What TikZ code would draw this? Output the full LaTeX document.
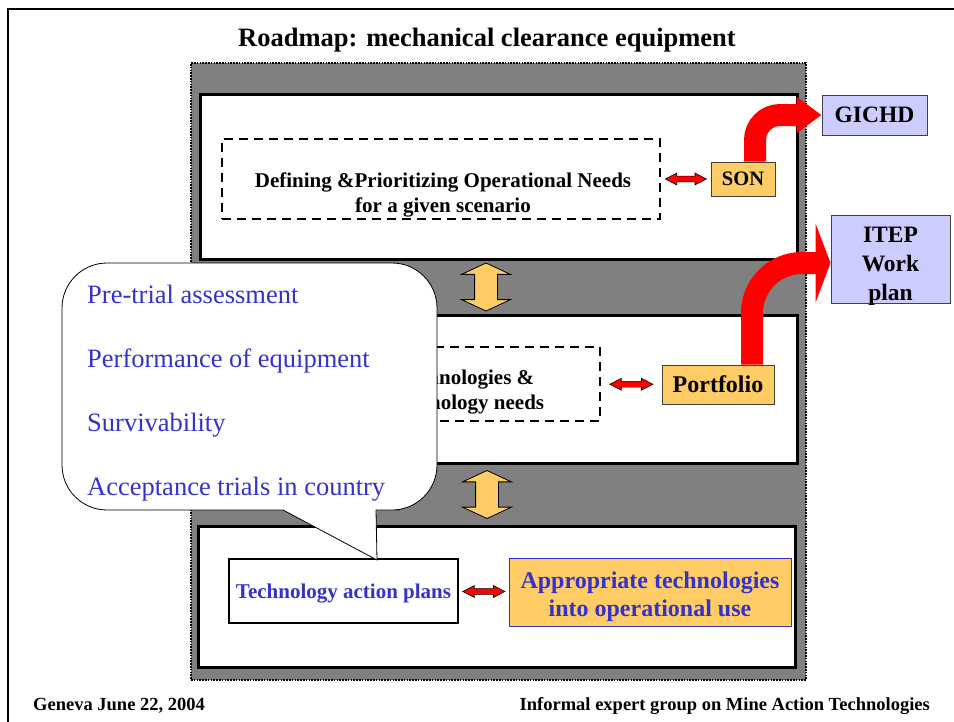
\documentclass[tikz,border=0pt]{standalone}
\usepackage{fontspec}
\setmainfont{Liberation Serif}
\usepackage{xcolor}
\usetikzlibrary{calc,arrows.meta,shapes.arrows}
\definecolor{shellgray}{HTML}{808080}
\definecolor{amber}{HTML}{FFCC66}
\definecolor{lilac}{HTML}{CCCCFF}
\definecolor{ink}{HTML}{3333CC}
\definecolor{edge}{HTML}{404040}
\tikzset{
  slide/.style={draw=black, line width=2.5pt},
  shell/.style={draw=black, fill=shellgray, line width=2.5pt, dash pattern=on 1.6pt off 1.2pt, inner sep=0pt},
  stage/.style={draw=black, fill=white, line width=3pt, inner sep=0pt},
  need/.style={draw=black, line width=2.5pt, dash pattern=on 9pt off 6pt, inner sep=0pt},
  needtxt/.style={align=center, font=\fontsize{21}{25}\selectfont\bfseries},
  tag/.style={draw=edge, fill=amber, line width=1pt, inner sep=0pt},
  dest/.style={draw=edge, fill=lilac, line width=1pt, inner sep=0pt, font=\fontsize{23.5}{29}\selectfont\bfseries},
  link/.style={double arrow, draw=black, fill=red, line width=0.6pt, inner xsep=0pt, inner ysep=2.6pt,
    minimum width=11pt, double arrow head extend=3pt, double arrow tip angle=55},
  lift/.style={double arrow, draw=black, fill=amber, line width=0.8pt, inner xsep=0pt, inner ysep=11pt, rotate=90,
    minimum width=48pt, minimum height=48pt, double arrow head extend=13pt, double arrow tip angle=130},
  fatarrow/.style={draw=red, line width=22pt},
  bubble/.style={draw=black, fill=white, line width=0.8pt},
  bullettxt/.style={text=ink, font=\fontsize{26.5}{30}\selectfont},
  heading/.style={font=\fontsize{26.5}{30}\selectfont\bfseries},
  foot/.style={font=\fontsize{18.5}{22}\selectfont\bfseries},
}

\begin{document}
\begin{tikzpicture}[x=1pt,y=-1pt]
  \useasboundingbox (0,0) rectangle (954,721);
  \draw[slide] (8,730) -- (8,9) -- (960,9);
  \node[heading, anchor=base] (title) at (487,46) {Roadmap: mechanical clearance equipment};

  \node[shell, minimum width=615pt, minimum height=617pt] (shell) at (498.5,371.5) {};
  \node[stage, minimum width=597pt, minimum height=165pt] (stage1) at (498.5,176.5) {};
  \node[stage, minimum width=597pt, minimum height=148pt] (stage2) at (498.5,389) {};
  \node[stage, minimum width=597pt, minimum height=141pt] (stage3) at (496.5,596.5) {};

  % top row
  \node[need, minimum width=438pt, minimum height=80pt] (need1) at (441,179) {};
  \node[needtxt] (need1txt) at (443,194.5) {Defining \&Prioritizing Operational Needs\\for a given scenario};
  \node[tag, minimum width=64pt, minimum height=34pt, font=\fontsize{20.5}{24}\selectfont\bfseries] (son) at (743,179) {SON};
  \path (need1.east) -- node[link, minimum height=41pt] (link1) {} (son.west);
  \node[dest, minimum width=105pt, minimum height=40pt] (gichd) at (874.5,115) {GICHD};
  \draw[fatarrow, rounded corners=25pt, -{Triangle[length=25pt,width=35pt]}] ([xshift=12pt]son.north) |- (gichd.west);

  % middle row
  \node[need, minimum width=340pt, minimum height=74pt] (need2) at (430,384) {};
  \node[needtxt] (need2txt) at (468,392) {technologies \&\\technology needs};
  \node[tag, minimum width=112pt, minimum height=39pt, font=\fontsize{24}{28}\selectfont\bfseries] (portfolio) at (718,384.5) {Portfolio};
  \path (need2.east) -- node[link, minimum height=43pt] (link2) {} (portfolio.west);
  \node[dest, minimum width=119pt, minimum height=88pt] (itep) at (890.5,259) {};
  \node[dest, draw=none, fill=none, align=center] (iteptxt) at (890.5,266) {ITEP\\Work\\plan};
  \draw[fatarrow, rounded corners=50pt, -{Triangle[length=15pt,width=79pt]}] ([xshift=34pt]portfolio.north) |- ([yshift=-4pt]itep.west);

  % bottom row
  \node[draw=black, fill=white, line width=2.5pt, minimum width=229pt, minimum height=64pt, inner sep=0pt, text depth=0pt,
    text=ink, font=\fontsize{21}{25}\selectfont\bfseries] (plans) at (343.5,591) {Technology action plans};
  \node[tag, draw=ink, minimum width=282pt, minimum height=68pt] (use) at (650,592) {};
  \node[needtxt, text=ink, font=\fontsize{24}{28}\selectfont\bfseries] (usetxt) at (650,597) {Appropriate technologies\\into operational use};
  \path (plans.east) -- node[link, minimum height=42pt] (link3) {} (use.west);

  \path ([xshift=-12.5pt]stage1.south) -- node[lift] (lift1) {} ([xshift=-12.5pt]stage2.north);
  \path ([xshift=-10.5pt]stage2.south) -- node[lift] (lift2) {} ([xshift=-10.5pt]stage3.north);

  % callout
  \draw[bubble] (200,510) -- (283,510) -- (377,560) -- (376,510) -- (400,510) [rounded corners=45pt]
    -- (437,510) -- (437,263) -- (62,263) -- (62,510) -- (150,510) [sharp corners] -- cycle;
  \foreach \txt [count=\i] in {Pre-trial assessment, Performance of equipment, Survivability, Acceptance trials in country}
    \node[bullettxt, anchor=base west, inner sep=0pt] (point\i) at (87,239+64*\i) {\txt};

  \node[foot, anchor=base west, inner sep=0pt] (place) at (33,710) {Geneva June 22, 2004};
  \node[foot, anchor=base east, inner sep=0pt] (group) at (930,710) {Informal expert group on Mine Action Technologies};
\end{tikzpicture}
\end{document}
